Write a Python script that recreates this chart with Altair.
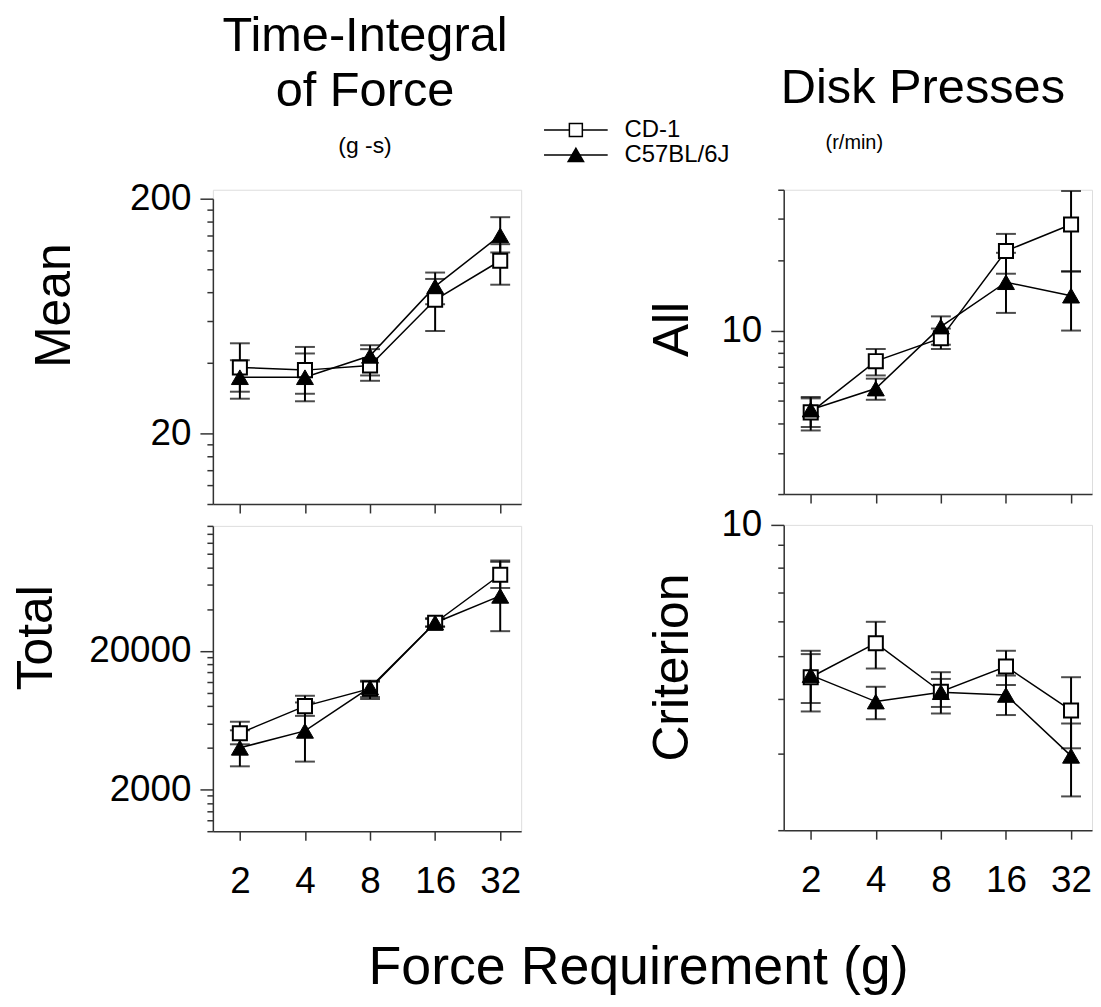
import altair as alt
import pandas as pd

force_req = [2, 4, 8, 16, 32]
strains = ["CD-1", "C57BL/6J"]

# Time-integral of force, mean (g-s)
mean_cd1 = [38.2, 37.2, 38.9, 74.2, 108.8]
mean_cd1_lo = [30.1, 29.5, 33.5, 54.6, 86.0]
mean_cd1_hi = [48.4, 46.7, 45.7, 91.0, 128.0]
mean_c57 = [34.7, 34.7, 42.8, 84.6, 139.6]
mean_c57_lo = [28.1, 27.4, 35.3, 71.0, 118.0]
mean_c57_hi = [41.0, 43.8, 47.5, 96.9, 166.8]

# Time-integral of force, total (g-s)
total_cd1 = [5100, 8000, 10700, 32000, 71000]
total_cd1_lo = [4240, 6800, 9300, 30000, 57000]
total_cd1_hi = [6170, 9500, 12000, 34000, 88000]
total_c57 = [4000, 5300, 10900, 32000, 50000]
total_c57_lo = [2940, 3180, 9000, 30000, 27800]
total_c57_hi = [5350, 8500, 12200, 34500, 90000]

# Disk presses, all (r/min)
all_cd1 = [4.47, 7.40, 9.28, 21.9, 28.4]
all_cd1_lo = [3.87, 6.43, 8.34, 17.5, 17.9]
all_cd1_hi = [5.13, 8.34, 10.2, 25.9, 39.5]
all_c57 = [4.59, 5.65, 10.4, 16.1, 14.1]
all_c57_lo = [3.74, 5.06, 8.70, 11.9, 10.0]
all_c57_hi = [5.20, 6.23, 11.5, 21.5, 17.9]

# Disk presses, criterion (r/min)
crit_cd1 = [4.48, 5.36, 4.15, 4.74, 3.76]
crit_cd1_lo = [3.91, 4.69, 3.83, 4.30, 3.08]
crit_cd1_hi = [5.06, 6.00, 4.44, 5.15, 4.48]
crit_c57 = [4.53, 3.94, 4.14, 4.08, 2.96]
crit_c57_lo = [3.74, 3.59, 3.70, 3.67, 2.39]
crit_c57_hi = [5.15, 4.26, 4.60, 4.52, 3.51]

# axis ticks
mean_ticks = [10, 12, 14, 16, 18, 20, 40, 60, 80, 100, 120, 140, 160, 180, 200]
mean_labels = [20, 200]
total_ticks = [1000, 1200, 1400, 1600, 1800, 2000, 4000, 6000, 8000, 10000, 12000,
               14000, 16000, 18000, 20000, 40000, 60000, 80000, 100000, 120000,
               140000, 160000]
total_labels = [2000, 20000]
all_ticks = [2, 3, 4, 5, 6, 7, 8, 9, 10, 20, 30, 40]
all_labels = [10]
crit_ticks = [2, 3, 4, 5, 6, 7, 8, 9, 10]
crit_labels = [10]

FONT = "Liberation Sans"
AX = "#333333"
W = 310
XDOM = [1.5, 40]


def make_df(m1, l1, h1, m2, l2, h2):
    rows = []
    for i, x in enumerate(force_req):
        rows.append(dict(x=x, series=strains[0], m=m1[i], lo=l1[i], hi=h1[i]))
        rows.append(dict(x=x, series=strains[1], m=m2[i], lo=l2[i], hi=h2[i]))
    return pd.DataFrame(rows)


def label(text, x, y, size, align="center", baseline="alphabetic"):
    return alt.Chart(pd.DataFrame({"t": [text]})).mark_text(
        font=FONT, fontSize=size, align=align, baseline=baseline, color="black"
    ).encode(x=alt.value(x), y=alt.value(y), text="t:N")


def panel(df, ydom, yticks, ylabels, ytitle, tx, ty, bottom, h, top_gap=0, extra=()):
    test = f"indexof({ylabels}, datum.value) >= 0"
    xs = alt.Scale(type="log", base=2, domain=XDOM, nice=False)
    ys = alt.Scale(type="log", domain=ydom, nice=False, range=[h, top_gap])
    xaxis = alt.Axis(values=force_req, format="d", title=None, grid=False,
                     labels=bottom, tickSize=9, tickWidth=1.5, tickColor=AX,
                     domainColor=AX, domainWidth=1.5, labelFontSize=37,
                     labelFont=FONT, labelColor="black", labelPadding=24,
                     labelFlush=False, labelOverlap=False)
    yaxis = alt.Axis(values=yticks, format="d", grid=False,
                     labelExpr=f"{test} ? datum.label : ''",
                     labelFontSize={"condition": {"test": test, "value": 37}, "value": 0},
                     tickSize={"condition": {"test": test, "value": 13}, "value": 6},
                     tickWidth=1.5, tickColor=AX, domainColor=AX, domainWidth=1.5,
                     labelFont=FONT, labelColor="black", labelPadding=9,
                     labelOverlap=False, labelFlush=False,
                     title=ytitle, titleFont=FONT, titleFontSize=50,
                     titleFontWeight="normal", titleColor="black",
                     titleAngle=270, titleAlign="center", titleBaseline="alphabetic",
                     titleX=tx, titleY=ty)
    base = alt.Chart(df)
    X = alt.X("x:Q", scale=xs, axis=xaxis)
    rule = base.mark_rule(color="black", strokeWidth=2).encode(
        x=X, y=alt.Y("lo:Q", scale=ys, axis=yaxis), y2="hi:Q")
    cap_lo = base.mark_tick(color="black", orient="horizontal", size=20, thickness=2).encode(
        x="x:Q", y="lo:Q")
    cap_hi = base.mark_tick(color="black", orient="horizontal", size=20, thickness=2).encode(
        x="x:Q", y="hi:Q")
    line = base.mark_line(color="black", strokeWidth=1.5).encode(
        x="x:Q", y="m:Q", detail="series:N")
    squares = base.mark_point(shape="square", filled=True, fill="white", stroke="black",
                              strokeWidth=2, size=200, opacity=1).encode(
        x="x:Q", y="m:Q").transform_filter(alt.datum.series == strains[0])
    tris = base.mark_point(shape="triangle-up", filled=True, fill="black", stroke="black",
                           strokeWidth=1, size=290, opacity=1).encode(
        x="x:Q", y="m:Q").transform_filter(alt.datum.series == strains[1])
    layers = [rule, cap_lo, cap_hi, line, squares, tris] + list(extra)
    return alt.layer(*layers).properties(width=W, height=h)


# legend pieces (drawn in the top-right panel, to its left)
def legend_row(name, shape, fill, size, y):
    df = pd.DataFrame({"t": [name]})
    c = alt.Chart(df)
    ln = c.mark_rule(color="black", strokeWidth=1.5).encode(
        x=alt.value(-241), x2=alt.value(-177), y=alt.value(y))
    pt = c.mark_point(shape=shape, filled=True, fill=fill, stroke="black",
                      strokeWidth=1.5, size=size, opacity=1).encode(
        x=alt.value(-209), y=alt.value(y))
    tx = c.mark_text(font=FONT, fontSize=24, align="left", baseline="middle",
                     color="black").encode(x=alt.value(-160), y=alt.value(y), text="t:N")
    return [ln, pt, tx]


df_mean = make_df(mean_cd1, mean_cd1_lo, mean_cd1_hi, mean_c57, mean_c57_lo, mean_c57_hi)
df_total = make_df(total_cd1, total_cd1_lo, total_cd1_hi, total_c57, total_c57_lo, total_c57_hi)
df_all = make_df(all_cd1, all_cd1_lo, all_cd1_hi, all_c57, all_c57_lo, all_c57_hi)
df_crit = make_df(crit_cd1, crit_cd1_lo, crit_cd1_hi, crit_c57, crit_c57_lo, crit_c57_hi)

tl_text = [label("Time-Integral", 153, -140, 49),
           label("of Force", 153, -84, 49),
           label("(g -s)", 153, -37, 23)]
tl = panel(df_mean, [10, 200], mean_ticks, mean_labels, "Mean", -144, 116, False,
           h=316, top_gap=9, extra=tl_text)
bl = panel(df_total, [1000, 160000], total_ticks, total_labels, "Total", -162, 112, True, h=307)

tr_text = [label("Disk Presses", 140, -87, 49),
           label("(r/min)", 71, -41, 20)]
tr_text += legend_row(strains[0], "square", "white", 170, -60)
tr_text += legend_row(strains[1], "triangle-up", "black", 240, -35)
tr = panel(df_all, [2, 40], all_ticks, all_labels, "All", -97, 140, False, h=306,
           extra=tr_text)
br = panel(df_crit, [2, 10], crit_ticks, crit_labels, "Criterion", -97, 143, True, h=307)

left = alt.vconcat(tl, bl, spacing=9)
right = alt.vconcat(tr, br, spacing=0)

chart = alt.hconcat(left, right, spacing=20).properties(
    padding={"left": 3, "top": 0, "right": 0, "bottom": 5},
    title=alt.TitleParams(text="Force Requirement (g)", orient="bottom", font=FONT,
                          fontSize=54, fontWeight="normal", color="black", offset=41,
                          anchor="middle", dx=87),
).configure_view(stroke=None).configure(background="white")

chart.save("out.html", embed_options={"renderer": "svg", "actions": False})
